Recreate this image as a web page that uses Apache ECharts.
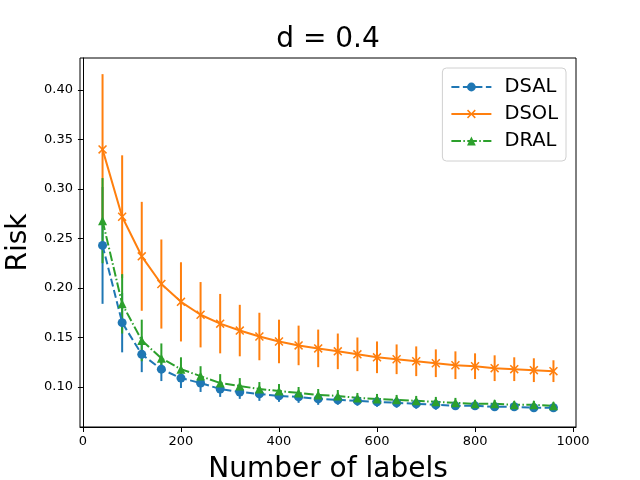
<!DOCTYPE html>
<html>
<head>
<meta charset="utf-8">
<script src="https://cdn.jsdelivr.net/npm/echarts@6.0.0/dist/echarts.min.js"></script>
<style>
  html, body { margin: 0; padding: 0; background: #fff; }
  #chart { width: 640px; height: 480px; }
</style>
</head>
<body>
<div id="chart"></div>
<script>
// number of labels
const labels = [40, 80, 120, 160, 200, 240, 280, 320, 360, 400, 440, 480,
  520, 560, 600, 640, 680, 720, 760, 800, 840, 880, 920, 960];

// mean risk per method
const dsal = [0.243, 0.165, 0.133, 0.118, 0.109, 0.104, 0.098, 0.095, 0.093, 0.091, 0.090, 0.088,
  0.087, 0.086, 0.085, 0.084, 0.083, 0.082, 0.081, 0.081, 0.080, 0.080, 0.079, 0.079];
const dsol = [0.340, 0.272, 0.232, 0.204, 0.186, 0.173, 0.164, 0.157, 0.151, 0.146, 0.142, 0.139,
  0.136, 0.133, 0.130, 0.128, 0.126, 0.124, 0.122, 0.121, 0.119, 0.118, 0.117, 0.116];
const dral = [0.268, 0.184, 0.147, 0.129, 0.118, 0.111, 0.104, 0.101, 0.098, 0.096, 0.094, 0.092,
  0.091, 0.089, 0.088, 0.087, 0.086, 0.085, 0.084, 0.083, 0.083, 0.082, 0.082, 0.081];

// error bar half widths
const dsalErr = [0.059, 0.030, 0.018, 0.012, 0.010, 0.009, 0.008, 0.007, 0.007, 0.006, 0.006, 0.006,
  0.005, 0.005, 0.005, 0.005, 0.005, 0.005, 0.004, 0.004, 0.004, 0.004, 0.004, 0.004];
const dsolErr = [0.076, 0.062, 0.055, 0.045, 0.040, 0.033, 0.030, 0.026, 0.024, 0.022, 0.020, 0.019,
  0.018, 0.017, 0.016, 0.015, 0.015, 0.014, 0.014, 0.013, 0.013, 0.012, 0.012, 0.011];
const dralErr = [0.043, 0.030, 0.021, 0.015, 0.012, 0.010, 0.009, 0.008, 0.007, 0.007, 0.006, 0.006,
  0.006, 0.005, 0.005, 0.005, 0.005, 0.005, 0.005, 0.004, 0.004, 0.004, 0.004, 0.004];

const xTicks = [0, 200, 400, 600, 800, 1000];
const yTicks = [0.10, 0.15, 0.20, 0.25, 0.30, 0.35, 0.40];

const FONT = 'DejaVu Sans';
const BLUE = '#1f77b4', ORANGE = '#ff7f0e', GREEN = '#2ca02c';

// thin "x" marker as a filled path
const X_MARK = 'path://M0,1.2 L1.2,0 L5,3.8 L8.8,0 L10,1.2 L6.2,5 L10,8.8 L8.8,10 L5,6.2 L1.2,10 L0,8.8 L3.8,5 Z';

function errData(ys, errs) {
  return labels.map((x, i) => [x, ys[i] - errs[i], ys[i] + errs[i]]);
}
function lineData(ys) {
  return labels.map((x, i) => [x, ys[i]]);
}

function errSeries(ys, errs, color) {
  return {
    type: 'custom',
    silent: true,
    data: errData(ys, errs),
    renderItem: function (params, api) {
      const lo = api.coord([api.value(0), api.value(1)]);
      const hi = api.coord([api.value(0), api.value(2)]);
      return {
        type: 'line',
        shape: { x1: lo[0], y1: lo[1], x2: hi[0], y2: hi[1] },
        style: { stroke: color, lineWidth: 2 }
      };
    }
  };
}

function mainSeries(name, ys, color, symbol, dash) {
  return {
    name: name,
    type: 'line',
    data: lineData(ys),
    symbol: symbol,
    symbolSize: 9,
    showSymbol: true,
    color: color,
    itemStyle: { color: color, borderWidth: 0 },
    lineStyle: { color: color, width: 2, type: dash },
    emphasis: { disabled: true }
  };
}

const chart = echarts.init(document.getElementById('chart'), null, { renderer: 'canvas' });

const option = {
  animation: false,
  backgroundColor: '#fff',
  textStyle: { fontFamily: FONT },
  title: {
    text: 'd = 0.4',
    left: 328,
    top: 26,
    padding: 0,
    textAlign: 'center',
    textStyle: { fontFamily: FONT, fontSize: 28, fontWeight: 'normal', color: '#000' }
  },
  legend: {
    data: ['DSAL', 'DSOL', 'DRAL'],
    orient: 'vertical',
    right: 74,
    top: 68,
    itemWidth: 40,
    itemHeight: 11,
    itemGap: 7,
    padding: [9, 8, 10, 8],
    borderColor: '#d0d0d0',
    borderWidth: 1,
    borderRadius: 4,
    backgroundColor: '#fff',
    textStyle: { fontFamily: FONT, fontSize: 19.5, color: '#000', padding: [0, 0, 0, 8] }
  },
  grid: {
    left: 80,
    right: 64,
    top: 58,
    bottom: 53,
    show: true,
    borderColor: '#000',
    borderWidth: 1,
    outerBoundsMode: 'none'
  },
  xAxis: {
    type: 'value',
    min: -6,
    max: 1006,
    name: 'Number of labels',
    nameLocation: 'middle',
    nameGap: 29,
    nameTextStyle: { fontFamily: FONT, fontSize: 28, color: '#000' },
    axisLine: { lineStyle: { color: '#000', width: 1 } },
    axisTick: { show: true, inside: false, length: 5, customValues: xTicks, lineStyle: { color: '#000' } },
    axisLabel: {
      customValues: xTicks, fontFamily: FONT, fontSize: 13, color: '#000', margin: 8,
      formatter: v => String(v)
    },
    splitLine: { show: false }
  },
  yAxis: {
    type: 'value',
    min: 0.0596,
    max: 0.4323,
    name: 'Risk',
    nameLocation: 'middle',
    nameGap: 42,
    nameRotate: 90,
    nameTextStyle: { fontFamily: FONT, fontSize: 28, color: '#000' },
    axisLine: { show: true, lineStyle: { color: '#000', width: 1 } },
    axisTick: { show: true, inside: false, length: 5, customValues: yTicks, lineStyle: { color: '#000' } },
    axisLabel: {
      customValues: yTicks, fontFamily: FONT, fontSize: 13, color: '#000', margin: 7,
      formatter: v => v.toFixed(2)
    },
    splitLine: { show: false }
  },
  series: [
    errSeries(dsal, dsalErr, BLUE),
    mainSeries('DSAL', dsal, BLUE, 'circle', [8, 3.5]),
    errSeries(dsol, dsolErr, ORANGE),
    mainSeries('DSOL', dsol, ORANGE, X_MARK, 'solid'),
    errSeries(dral, dralErr, GREEN),
    mainSeries('DRAL', dral, GREEN, 'triangle', [9.6, 2.4, 1.5, 2.4])
  ]
};

chart.setOption(option);
</script>
</body>
</html>
